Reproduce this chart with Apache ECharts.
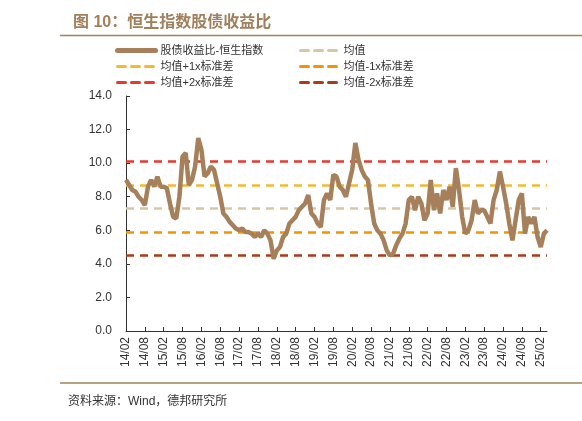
<!DOCTYPE html>
<html>
<head>
<meta charset="utf-8">
<script src="https://cdn.jsdelivr.net/npm/echarts@6/dist/echarts.min.js"></script>
<style>
html, body { margin: 0; padding: 0; background: #fff; }
#main { width: 582px; height: 421px; }
</style>
</head>
<body>
<div id="main"></div>
<script>
// 月度日期 14/02 ~ 25/04
var months = [];
for (var y = 2014; y <= 2025; y++) {
	for (var mo = 1; mo <= 12; mo++) {
		if (y === 2014 && mo < 2) continue;
		if (y === 2025 && mo > 4) break;
		months.push(String(y).slice(2) + '/' + (mo < 10 ? '0' + mo : mo));
	}
}

// 股债收益比-恒生指数
var ratioData = [
	9.0, 8.7, 8.4, 8.3, 8.0, 7.8, 7.5, 8.6, 9.0, 8.6, 9.2, 8.6,
	8.6, 8.5, 7.6, 6.8, 6.7, 8.0, 10.4, 10.6, 8.7, 9.0, 9.8, 11.5,
	10.8, 9.2, 9.4, 9.8, 9.6, 8.8, 8.0, 7.0, 6.8, 6.5, 6.3, 6.1,
	6.0, 6.1, 5.9, 5.9, 5.8, 5.6, 5.8, 5.6, 6.0, 5.8, 5.4, 4.3,
	4.8, 5.0, 5.6, 5.8, 6.4, 6.6, 6.8, 7.2, 7.4, 7.6, 8.1, 7.0,
	6.8, 6.4, 6.2, 7.8, 8.2, 7.8, 9.3, 9.2, 8.6, 8.4, 8.0, 8.8,
	9.6, 11.2, 10.2, 9.6, 9.2, 9.0, 7.6, 6.4, 6.0, 5.8, 5.4, 4.8,
	4.5, 4.6, 5.1, 5.5, 5.8, 6.4, 7.8, 8.0, 7.2, 8.0, 7.6, 6.6,
	7.0, 9.0, 7.2, 8.2, 7.0, 8.4, 7.8, 8.6, 7.4, 9.7, 8.4, 6.8,
	5.8, 6.0, 6.6, 7.8, 7.0, 7.2, 7.2, 6.8, 6.4, 7.8, 8.4, 9.5,
	8.6, 7.6, 6.4, 5.4, 6.6, 7.8, 8.2, 5.8, 6.8, 6.4, 6.8, 5.6,
	5.0, 5.8, 6.0
];

// 均值及标准差线
var levelNames = ['均值', '均值+1x标准差', '均值-1x标准差', '均值+2x标准差', '均值-2x标准差'];
var levelValues = [7.3, 8.7, 5.9, 10.1, 4.5];
var levelColors = ['#d9c6a2', '#f6b832', '#f39400', '#e8392c', '#b03913'];

var yTicks = [0, 2, 4, 6, 8, 10, 12, 14];

var myChart = echarts.init(document.getElementById('main'));

var series = [{
	name: '股债收益比-恒生指数',
	type: 'line',
	data: ratioData,
	symbol: 'none',
	lineStyle: { color: '#a6805a', width: 4.5 },
	itemStyle: { color: 'rgba(0,0,0,0)' },
	z: 5
}];
for (var i = 0; i < levelNames.length; i++) {
	series.push({
		name: levelNames[i],
		type: 'line',
		data: [],
		symbol: 'none',
		lineStyle: { color: levelColors[i], width: 2.5, type: [8, 6] },
		itemStyle: { color: 'rgba(0,0,0,0)' },
		markLine: {
			silent: true,
			symbol: 'none',
			label: { show: false },
			lineStyle: { color: levelColors[i], width: 2.5, type: [8, 6] },
			data: [{ yAxis: levelValues[i] }]
		},
		z: 3
	});
}

var legendText = { fontSize: 11, color: '#333', fontFamily: 'Liberation Sans, Noto Sans CJK SC' };
function legendItem(name, w) {
	return { name: name, lineStyle: { width: w, cap: 'round' } };
}

option = {
	animation: false,
	backgroundColor: '#fff',
	title: {
		text: '图 10：恒生指数股债收益比',
		left: 68,
		top: 10,
		textStyle: { fontSize: 16, fontWeight: 'bold', color: '#a07f5a', fontFamily: 'Liberation Sans, Noto Sans CJK SC' }
	},
	legend: [{
		left: 110,
		top: 40,
		orient: 'vertical',
		itemWidth: 38,
		itemHeight: 12,
		itemGap: 5,
		itemStyle: { opacity: 0 },
		textStyle: legendText,
		data: [legendItem('股债收益比-恒生指数', 5), legendItem('均值+1x标准差', 3), legendItem('均值+2x标准差', 3)]
	}, {
		left: 294,
		top: 40,
		orient: 'vertical',
		itemWidth: 38,
		itemHeight: 12,
		itemGap: 5,
		itemStyle: { opacity: 0 },
		textStyle: legendText,
		data: [legendItem('均值', 3), legendItem('均值-1x标准差', 3), legendItem('均值-2x标准差', 3)]
	}],
	graphic: [{
		type: 'line',
		shape: { x1: 60, y1: 35.5, x2: 582, y2: 35.5 },
		style: { stroke: '#a6805a', lineWidth: 1.5 }
	}, {
		type: 'line',
		shape: { x1: 60, y1: 383, x2: 582, y2: 383 },
		style: { stroke: '#a6805a', lineWidth: 1.5 }
	}, {
		type: 'text',
		left: 68,
		top: 396,
		style: { text: '资料来源：Wind，德邦研究所', fontSize: 12, fill: '#333', fontFamily: 'Liberation Sans, Noto Sans CJK SC' }
	}],
	grid: { left: 126, top: 96, width: 421, height: 235 },
	xAxis: {
		type: 'category',
		boundaryGap: false,
		data: months,
		axisLine: { lineStyle: { color: '#333', width: 1 } },
		axisTick: { inside: true, interval: 5, length: 4, lineStyle: { color: '#333' } },
		axisLabel: { interval: 5, rotate: 90, fontSize: 12, color: '#333', margin: 6, fontFamily: 'Liberation Sans' }
	},
	yAxis: {
		type: 'value',
		min: yTicks[0],
		max: yTicks[yTicks.length - 1],
		interval: 2,
		axisLine: { show: true, lineStyle: { color: '#333', width: 1 } },
		axisTick: { show: true, inside: true, length: 4, lineStyle: { color: '#333' } },
		splitLine: { show: false },
		axisLabel: {
			fontSize: 12, color: '#333', margin: 14, fontFamily: 'Liberation Sans',
			formatter: function (v) { return v.toFixed(1); }
		}
	},
	series: series
};

myChart.setOption(option);
</script>
</body>
</html>
